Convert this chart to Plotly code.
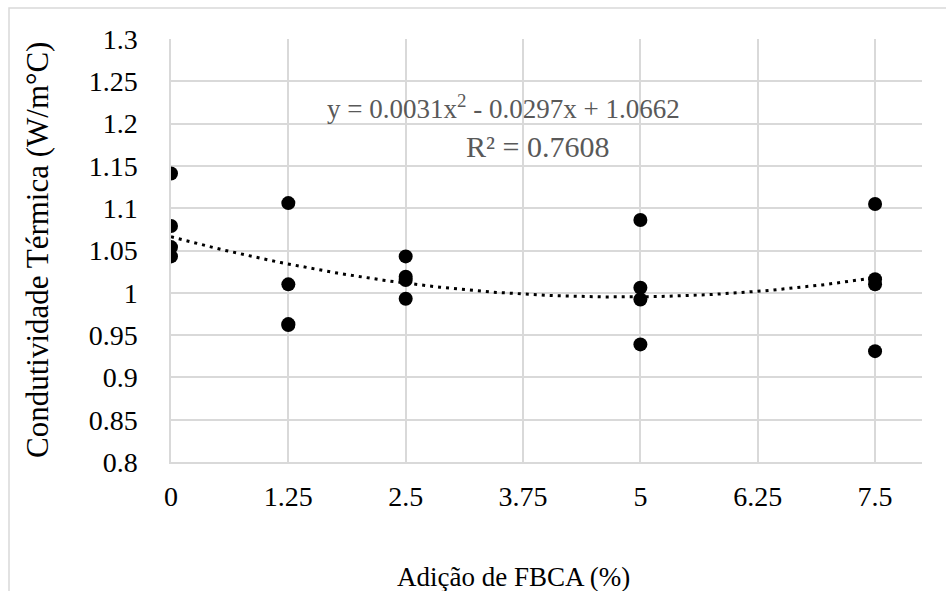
import numpy as np
import plotly.graph_objects as go

# Measured thermal conductivity per FBCA addition level (4 specimens each)
adicao = [0, 0, 0, 0,
          1.25, 1.25, 1.25, 1.25,
          2.5, 2.5, 2.5, 2.5,
          5, 5, 5, 5,
          7.5, 7.5, 7.5, 7.5]
condutividade = [1.141, 1.079, 1.054, 1.043,
                 1.106, 1.010, 0.963, 0.962,
                 1.043, 1.019, 1.015, 0.993,
                 1.086, 1.006, 0.992, 0.939,
                 1.105, 1.016, 1.010, 0.931]

# Polynomial trendline coefficients (a*x^2 + b*x + c) and R²
coef_a, coef_b, coef_c = 0.0031, -0.0297, 1.0662
r2 = 0.7608

x_ticks = [0, 1.25, 2.5, 3.75, 5, 6.25, 7.5]
x_ticktext = ["0", "1.25", "2.5", "3.75", "5", "6.25", "7.5"]
y_ticks = [0.8, 0.85, 0.9, 0.95, 1.0, 1.05, 1.1, 1.15, 1.2, 1.25, 1.3]
y_ticktext = ["0.8", "0.85", "0.9", "0.95", "1", "1.05", "1.1", "1.15", "1.2", "1.25", "1.3"]

FONT = "Liberation Serif"
GRID = "#d9d9d9"

W, H = 946, 591
ML, MR, MT, MB = 171, 24, 39, 129
PW, PH = W - ML - MR, H - MT - MB


def px(x):
    return (x - ML) / PW


def py(y):
    return 1 - (y - MT) / PH


xt = np.linspace(min(adicao), max(adicao), 200)
yt = coef_a * xt ** 2 + coef_b * xt + coef_c

fig = go.Figure()
fig.add_trace(go.Scatter(
    x=xt, y=yt, mode="lines",
    line=dict(color="black", width=3, dash="3px,5px"),
    hoverinfo="skip", showlegend=False,
))
fig.add_trace(go.Scatter(
    x=adicao, y=condutividade, mode="markers",
    marker=dict(color="black", size=14, line=dict(width=0)),
    showlegend=False,
))

fig.update_layout(
    width=W, height=H,
    margin=dict(l=ML, r=MR, t=MT, b=MB),
    paper_bgcolor="white", plot_bgcolor="white",
    font=dict(family=FONT, size=28, color="black"),
    xaxis=dict(
        range=[0, 8], tickvals=x_ticks, ticktext=x_ticktext,
        showgrid=True, gridcolor=GRID, gridwidth=1.5,
        zeroline=False, showline=True, linecolor=GRID, linewidth=1.5,
        ticks="", ticklabelstandoff=9,
        tickfont=dict(family=FONT, size=28, color="black"),
    ),
    yaxis=dict(
        range=[0.8, 1.3], tickvals=y_ticks, ticktext=y_ticktext,
        showgrid=True, gridcolor=GRID, gridwidth=1.5,
        zeroline=False, showline=True, linecolor=GRID, linewidth=1.5,
        ticks="", ticklabelstandoff=26,
        tickfont=dict(family=FONT, size=28, color="black"),
    ),
    shapes=[
        # chart frame
        dict(type="rect", xref="paper", yref="paper",
             x0=px(9), x1=px(W + 20), y0=py(H + 20), y1=py(8),
             line=dict(color=GRID, width=1.5), fillcolor="rgba(0,0,0,0)",
             layer="below"),
    ],
    annotations=[
        dict(text="FBCA.", xref="paper", yref="paper",
             x=px(492), y=py(4), xanchor="center", yanchor="bottom",
             yshift=-4, showarrow=False,
             font=dict(family=FONT, size=30, color="black")),
        dict(text="Adição de FBCA (%)", xref="paper", yref="paper",
             x=px(513), y=py(577), xanchor="center", yanchor="middle",
             showarrow=False, font=dict(family=FONT, size=27, color="black")),
        dict(text="Condutividade Térmica (W/m°C)", xref="paper", yref="paper",
             x=px(38), y=py(250), xanchor="center", yanchor="middle",
             textangle=-90, showarrow=False,
             font=dict(family=FONT, size=31, color="black")),
        dict(text=f"y = {coef_a:.4f}x<sup>2</sup> - {abs(coef_b):.4f}x + {coef_c:.4f}",
             xref="paper", yref="paper",
             x=px(503), y=py(107), xanchor="center", yanchor="middle",
             showarrow=False, font=dict(family=FONT, size=27, color="#595959")),
        dict(text=f"R² = {r2:.4f}", xref="paper", yref="paper",
             x=px(537), y=py(146), xanchor="center", yanchor="middle",
             showarrow=False, font=dict(family=FONT, size=30, color="#595959")),
    ],
)

fig.write_html("out.html")
